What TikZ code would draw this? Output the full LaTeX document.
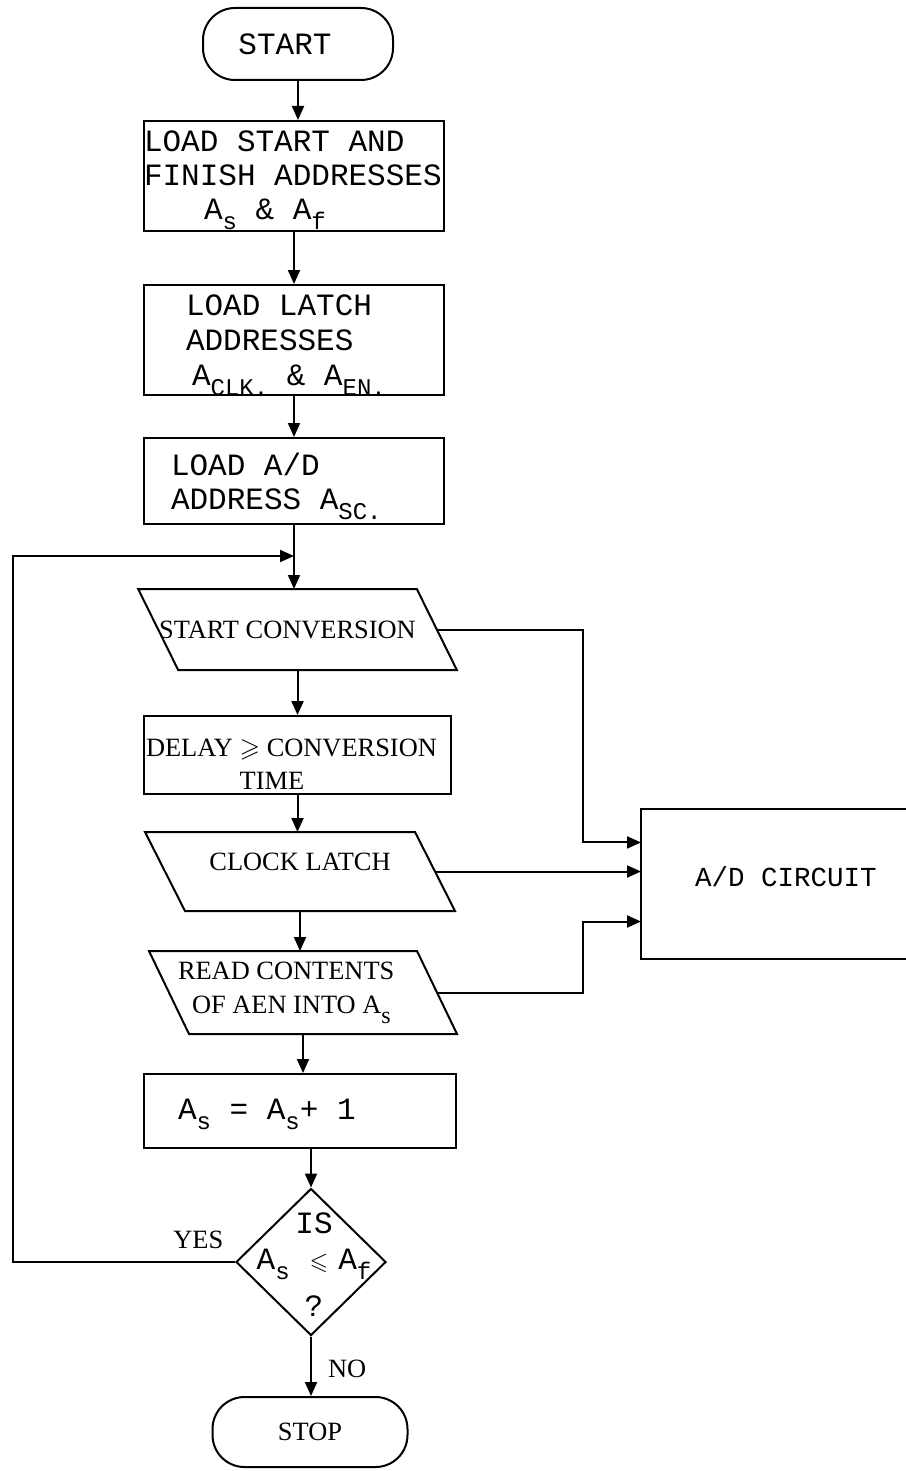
\documentclass[tikz,border=0pt]{standalone}
\usepackage{amssymb}
\usepackage{fontspec}
\setmainfont{Liberation Serif}
\newfontfamily\monof{Liberation Mono}
\usetikzlibrary{arrows.meta,calc,shapes.geometric}
\newcommand\subtt[1]{\raisebox{-5pt}{\fontsize{12}{12}\selectfont #1}}
\newcommand\monosp{\spaceskip=0.6em\relax}
\newcommand\serifsp{\spaceskip=0.25em\relax}
\begin{document}
\begin{tikzpicture}[x=0.5pt,y=-0.5pt,line width=1pt,
  arr/.style={-{Triangle[length=7pt,width=6pt]}},
  monot/.style={font=\monof\fontsize{15.5}{17}\selectfont},
  serift/.style={font=\fontsize{13.2}{17}\selectfont},
  box/.style={draw,rectangle,inner sep=0pt,align=left,anchor=north west},
  iobox/.style={rectangle,inner sep=0pt},
  term/.style={draw,rectangle,rounded corners=16pt,inner sep=0pt},
  lbl/.style={serift,inner sep=0pt}]
\useasboundingbox (0,0) rectangle (905,1471);

% terminals
\node[term,monot,minimum width=95pt,minimum height=36pt] (st) at (298,44) {START\hspace*{13pt}};
\node[term,serift,minimum width=97.5pt,minimum height=35pt] (sp) at (310,1432) {STOP};

% process boxes
\node[box,monot,text width=150pt,minimum height=55pt] (b1) at (143,120)
  {\monosp\rule{0pt}{15pt}LOAD START AND\\FINISH ADDRESSES\\\hspace*{30pt}A\subtt{s} \& A\subtt{f}};
\node[box,monot,font=\monof\fontsize{15.5}{17.5}\selectfont,text width=150pt,minimum height=54pt] (b2) at (143,284)
  {\monosp\rule{0pt}{15pt}\hspace*{21pt}LOAD LATCH\\\hspace*{21pt}ADDRESSES\\\hspace*{24pt}A\subtt{CLK.} \& A\subtt{EN.}};
\node[box,monot,text width=150pt,minimum height=43pt] (b3) at (143,437)
  {\monosp\rule{0pt}{17pt}\hspace*{13.5pt}LOAD A/D\\\hspace*{13.5pt}ADDRESS A\subtt{SC.}};
\node[box,serift,font=\fontsize{13.2}{16.5}\selectfont,text width=153.5pt,minimum height=39pt] (dl) at (143,715)
  {\serifsp\rule{0pt}{18pt}\hspace*{1pt}DELAY $\geqslant$ CONVERSION\\\hspace*{1pt}\phantom{DELAY}\ TIME};
\node[box,monot,text width=156pt,minimum height=37pt] (b5) at (143,1073)
  {\monosp\rule{0pt}{14pt}\hspace*{17pt}A\subtt{s} = A\subtt{s}+ 1};

% input/output parallelograms
\node[iobox,serift,minimum width=134pt,minimum height=39.5pt] (p1) at (297.5,629.5) {START CONVERSION\hspace*{10pt}};
\node[iobox,serift,minimum width=134pt,minimum height=38.5pt] (p2) at (300,871.5) {CLOCK LATCH\rule[-9.5pt]{0pt}{9.5pt}};
\node[iobox,serift,align=left,text width=133pt,minimum height=40.5pt] (p3) at (303,992.5)
  {\serifsp\hspace*{4pt}READ CONTENTS\\\hspace*{11pt}OF AEN INTO A\subtt{s}};
\foreach \p in {p1,p2,p3}{
  \draw ([xshift=-10pt]\p.north west) -- ([xshift=-10pt]\p.north east)
     -- ([xshift=10pt]\p.south east) -- ([xshift=10pt]\p.south west) -- cycle;
}

% decision
\node[draw,diamond,inner sep=0pt,minimum width=75pt,minimum height=73.5pt] (d) at (311,1262) {};
\node[monot,align=center,inner sep=0pt] (dt) at (314,1265)
  {IS\\[1pt]A\subtt{s}\hspace{10pt}{\fontsize{12}{12}\selectfont$\leqslant$}\hspace{5pt}A\subtt{f}\\[6.5pt]?};

% A/D circuit (right side runs off the page)
\node[iobox,minimum width=131.5pt,minimum height=74pt,font=\monof\fontsize{13.75}{15}\selectfont] (ad) at (773.5,884)
  {\hspace*{12.5pt}A/D CIRCUIT\rule[-7pt]{0pt}{7pt}};
\draw (ad.north east) -- (ad.north west) -- (ad.south west) -- (ad.south east);

% helper coordinates
\coordinate (bus) at (583,0);
\coordinate (lx) at (13,0);
\path (b3.south) ++(0,31) coordinate (j);
\coordinate (a1) at ($(ad.north west)!0.223!(ad.south west)$);
\coordinate (a3) at ($(ad.north west)!0.75!(ad.south west)$);

% main flow
\draw[arr] (st.south) -- (st.south |- b1.north);
\draw[arr] (b1.south) -- (b1.south |- b2.north);
\draw[arr] (b2.south) -- (b2.south |- b3.north);
\draw[arr] (b3.south) -- (b3.south |- p1.north);
\draw[arr] (p1.south) -- (p1.south |- dl.north);
\draw[arr] (dl.south) -- (dl.south |- p2.north);
\draw[arr] (p2.south) -- (p2.south |- p3.north);
\draw[arr] (p3.south) -- (p3.south |- b5.north);
\draw[arr] (b5.south -| d.north) -- (d.north);
\draw[arr] (d.south) -- node[lbl,pos=0.55,right=8pt] (no) {NO} (d.south |- sp.north);
\draw[arr] (d.west) -- node[lbl,pos=0.165,above=6pt] (yes) {YES} (d.west -| lx) -- (lx |- j) -- (j);

% links to the A/D circuit
\draw[arr] (p1.east) -- (p1.east -| bus) -- (bus |- a1) -- (a1);
\draw[arr] (p2.east) -- (p2.east -| ad.west);
\draw[arr] (p3.east) -- (p3.east -| bus) -- (bus |- a3) -- (a3);
\end{tikzpicture}
\end{document}
